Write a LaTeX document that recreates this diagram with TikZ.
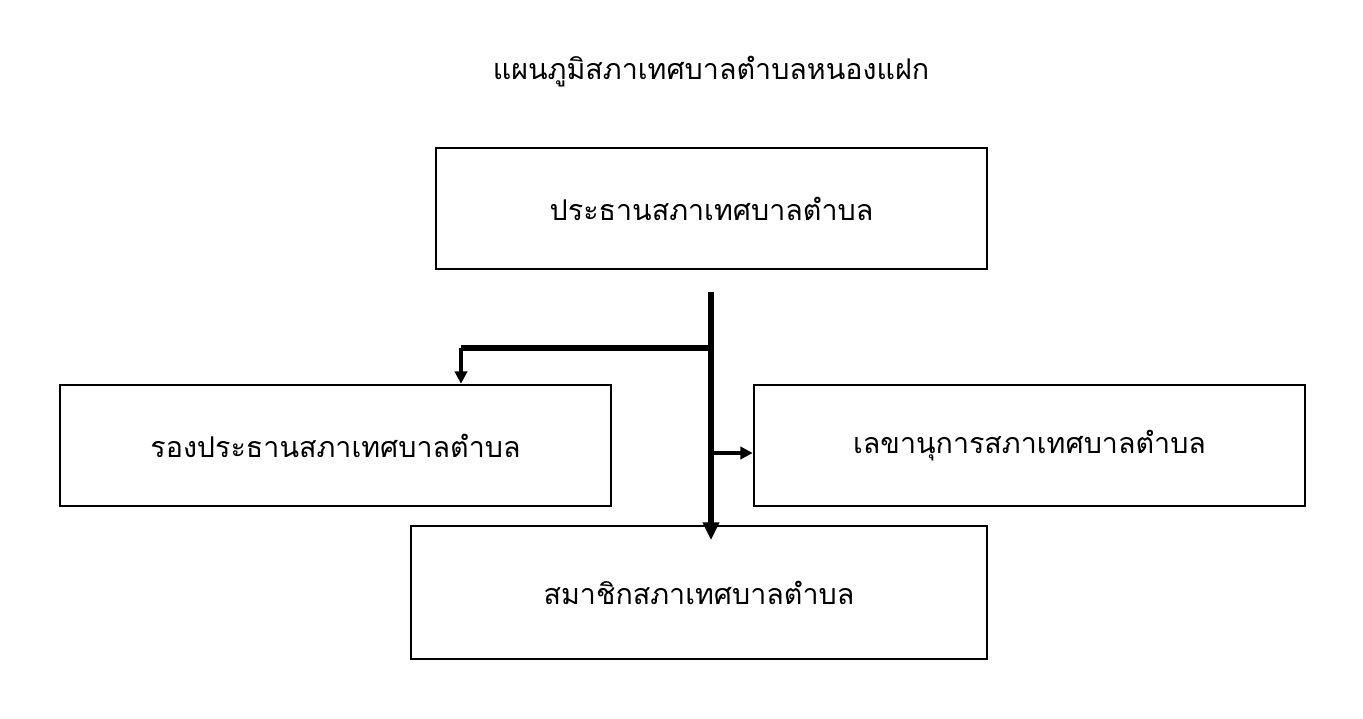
\documentclass[tikz,border=0pt]{standalone}
\usepackage{fontspec}
\newfontfamily\thaifont[Script=Thai]{Loma}
\usetikzlibrary{arrows.meta,positioning}

\begin{document}
\begin{tikzpicture}[x=0.02cm, y=-0.02cm,
    box/.style={rectangle, draw, line width=1.5pt, minimum width=551*0.02cm, minimum height=121*0.02cm, align=center, font=\thaifont\fontsize{16.3}{20}\selectfont},
    trunk/.style={-{Triangle[length=10pt,width=9pt]}, line width=3.5pt},
    arrow/.style={-{Triangle[length=7pt,width=7pt]}, line width=2pt}
]
    \useasboundingbox (0,0) rectangle (1363,719);
    \node[font=\thaifont\fontsize{16.3}{20}\selectfont] (title) at (711,72) {แผนภูมิสภาเทศบาลตำบลหนองแฝก};

    \node[box] (chair) at (711.5,208.5) {ประธานสภาเทศบาลตำบล};
    \node[box] (vice) at (335.5,445.5) {รองประธานสภาเทศบาลตำบล};
    \node[box] (secretary) at (1029.5,445.5) {เลขานุการสภาเทศบาลตำบล};
    \node[box, minimum width=576*0.02cm, minimum height=133*0.02cm] (member) at (699,592.5) {สมาชิกสภาเทศบาลตำบล};

    \coordinate (top) at (711,292);
    \coordinate (tip) at (711,540);
    \coordinate (split) at (711,348);
    \coordinate (bend) at (461,348);
    \coordinate (side) at (711,453);

    \draw[trunk] (top) -- (tip);
    \draw[line width=3pt] (split) -- (bend);
    \draw[arrow] (bend) -- (vice.north -| bend);
    \draw[arrow] (side) -- (secretary.west |- side);
\end{tikzpicture}
\end{document}
